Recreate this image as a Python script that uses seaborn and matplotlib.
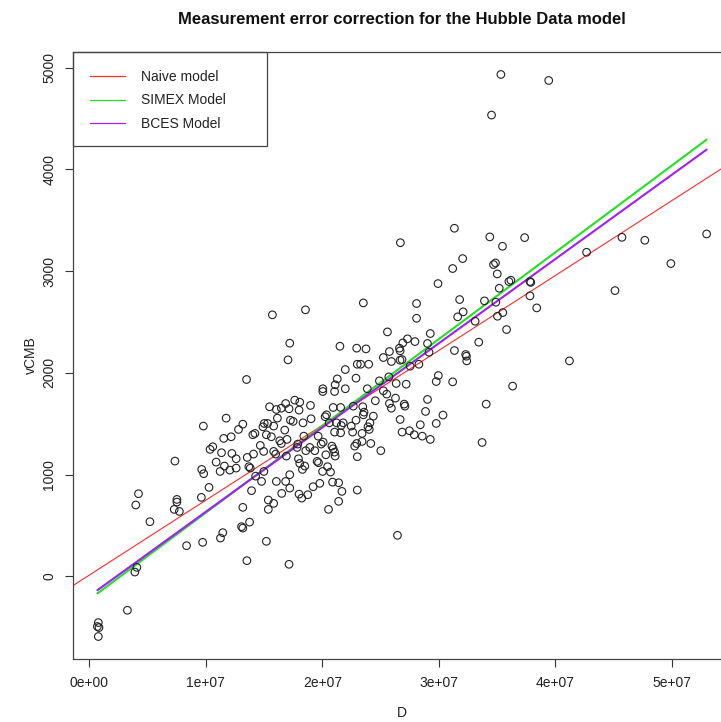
import numpy as np
import pandas as pd
import matplotlib
matplotlib.use("Agg")
import matplotlib.pyplot as plt
import matplotlib.patches as mpatches
from matplotlib.ticker import FuncFormatter
import seaborn as sns

# Distance D (units of 1e7) and CMB-frame velocity vCMB for each galaxy
d_1e7 = [
    1.153, 1.217, 1.036, 1.059, 1.134, 1.223, 1.260, 0.734, 1.088, 1.159,
    1.260, 0.964, 0.981, 1.122, 1.205, 0.421, 0.398, 1.027, 0.751, 0.751,
    0.728, 0.772, 0.961, 0.519, 1.145, 1.125, 0.972, 0.834, 0.407, 0.390,
    0.326, 0.076, 0.068, 0.082, 0.076,
    1.571, 1.855, 1.720, 1.705, 1.349, 2.004, 2.004, 1.763, 1.806, 1.898,
    1.547, 1.605, 1.648, 1.685, 1.714, 1.800, 1.174, 1.614, 1.726, 1.749,
    1.834, 1.903, 2.024, 0.978, 1.317, 1.280, 1.501, 1.530, 1.490, 1.582,
    1.677, 1.403, 1.421, 1.519, 1.562, 1.697, 1.841, 1.964,
    1.369, 1.381, 1.355, 1.409, 1.467, 1.496, 1.582, 1.599, 1.648, 1.634,
    1.691, 1.789, 1.783, 1.858, 1.892, 1.935, 1.990, 2.030, 1.955, 1.967,
    2.002, 2.045, 1.795, 1.806, 1.849, 1.829, 1.498, 1.427, 1.478, 1.392,
    1.605, 1.685, 1.720, 1.720, 1.651, 1.800, 1.823, 1.875, 1.921, 1.978,
    1.536, 1.582, 1.536, 1.317, 2.053, 1.375, 1.306, 1.317, 1.519, 1.352,
    1.714,
    2.352, 2.809, 2.809, 2.559, 2.927, 2.151, 2.295, 2.375, 2.731, 2.691,
    2.795, 2.903, 2.662, 2.668, 2.576, 2.524, 2.593, 2.667, 2.684, 2.300,
    2.329, 2.398, 2.754, 2.829, 2.197, 2.289, 2.490, 2.571, 2.634, 2.720,
    2.128, 2.110, 2.105, 2.197, 2.386, 2.524, 2.553, 2.455, 2.628, 2.576,
    2.593, 2.703, 2.709, 2.903, 2.093, 2.157, 2.266, 2.347, 2.358, 2.352,
    2.438, 2.036, 2.059, 2.122, 2.162, 2.179, 2.248, 2.289, 2.409, 2.392,
    2.403, 2.668, 2.748, 2.841, 2.886, 2.978, 2.105, 2.157, 2.260, 2.341,
    2.685, 2.789, 2.858, 2.927, 2.007, 2.082, 2.295, 2.278, 2.341, 2.416,
    2.093, 2.105, 2.110, 2.502, 2.300, 2.070, 2.088, 2.140, 2.168, 2.300,
    2.140, 2.645,
    3.134, 3.438, 3.737, 3.547, 3.205, 3.119, 3.470, 3.487, 3.502, 2.993,
    3.602, 3.619, 3.783, 3.790, 3.519, 3.179, 3.392, 3.490, 3.783, 3.841,
    3.209, 3.162, 3.312, 3.504, 3.550, 3.582, 2.916, 3.343, 3.134, 3.231,
    3.237, 3.240, 4.122, 2.996, 2.978, 3.119, 3.634, 3.407, 3.036, 3.372,
    3.533, 3.944, 3.453,
    4.573, 4.769, 5.300, 4.269, 4.993, 4.513, 2.670,
]
vcmb = [
    1356, 1372, 1248, 1274, 1215, 1208, 1156, 1133, 1123, 1084,
    1064, 1051, 1009, 1031, 1044, 812, 701, 874, 756, 730,
    658, 638, 776, 537, 429, 376, 334, 301, 88, 42,
    -334, -455, -494, -504, -592,
    2571, 2620, 2292, 2128, 1935, 1844, 1817, 1732, 1712, 1680,
    1667, 1640, 1653, 1699, 1647, 1634, 1555, 1555, 1535, 1523,
    1509, 1549, 1569, 1477, 1496, 1444, 1503, 1503, 1470, 1477,
    1438, 1392, 1405, 1392, 1372, 1346, 1378, 1378,
    1078, 1064, 1169, 1202, 1287, 1228, 1228, 1202, 1306, 1333,
    1182, 1300, 1267, 1235, 1267, 1235, 1300, 1195, 1130, 1117,
    1031, 1078, 1156, 1110, 1084, 1051, 1031, 985, 933, 842,
    933, 933, 999, 867, 815, 808, 769, 802, 881, 914,
    750, 717, 658, 678, 658, 533, 488, 474, 344, 154,
    118,
    2688, 2682, 2537, 2403, 2387, 2262, 2243, 2236, 2335, 2295,
    2308, 2289, 2243, 2217, 2210, 2151, 2112, 2125, 2131, 2085,
    2085, 2085, 2066, 2085, 2033, 1948, 1922, 1961, 1896, 1889,
    1941, 1883, 1817, 1844, 1844, 1824, 1791, 1726, 1752, 1699,
    1653, 1693, 1673, 1739, 1660, 1660, 1673, 1667, 1614, 1588,
    1575, 1588, 1509, 1509, 1483, 1509, 1477, 1535, 1509, 1470,
    1444, 1542, 1431, 1490, 1621, 1503, 1418, 1411, 1418, 1405,
    1418, 1392, 1378, 1346, 1319, 1280, 1306, 1280, 1326, 1306,
    1254, 1221, 1182, 1235, 1176, 1025, 926, 920, 835, 848,
    737, 403,
    3422, 3337, 3330, 3245, 3124, 3026, 3065, 3081, 2973, 2878,
    2898, 2911, 2898, 2890, 2832, 2721, 2708, 2695, 2757, 2639,
    2600, 2551, 2508, 2557, 2593, 2426, 2203, 2302, 2220, 2181,
    2164, 2118, 2118, 1974, 1915, 1912, 1870, 1693, 1585, 1316,
    4934, 4875, 4535,
    3333, 3304, 3366, 3186, 3075, 2809, 3280,
]

# Fitted regressions: vCMB = intercept + slope * D
model_names = ["Naive model", "SIMEX Model", "BCES Model"]
model_intercepts = [13.0, -227.0, -193.0]
model_slopes = [7.36e-5, 8.53e-5, 8.28e-5]
model_colors = ["#ff2a2a", "#22e022", "#a020f0"]
model_widths = [0.8, 1.5, 1.5]

x_ticks = [0, 1e7, 2e7, 3e7, 4e7, 5e7]
y_ticks = [0, 1000, 2000, 3000, 4000, 5000]

df = pd.DataFrame({"D": np.array(d_1e7) * 1e7, "vCMB": vcmb})

sns.set_style("white")
plt.rcParams["font.family"] = ["Liberation Sans", "DejaVu Sans"]

W, H = 721, 722
fig = plt.figure(figsize=(W / 100, H / 100), dpi=100)
# plot region in pixels: left 73, top 52, right 731, bottom 659
ax = fig.add_axes([73 / W, (H - 659) / H, 658 / W, 607 / H])

sns.scatterplot(data=df, x="D", y="vCMB", ax=ax, marker="o", s=30,
                facecolor="none", edgecolor="#222222", linewidth=0.8,
                legend=False, zorder=3)

xmin, xmax = df["D"].min(), df["D"].max()
ymin, ymax = df["vCMB"].min(), df["vCMB"].max()
xpad, ypad = 0.04 * (xmax - xmin), 0.04 * (ymax - ymin)
ax.set_xlim(xmin - xpad, xmax + xpad)
ax.set_ylim(ymin - ypad, ymax + ypad)

handles = []
for i, (name, a, b, c, w) in enumerate(zip(model_names, model_intercepts,
                                           model_slopes, model_colors, model_widths)):
    if i == 0:
        # naive fit drawn across the whole plotting region
        ax.axline((0, a), slope=b, color=c, lw=w, zorder=2)
    else:
        xs = np.array([xmin, xmax])
        line_df = pd.DataFrame({"D": xs, "vCMB": a + b * xs})
        sns.lineplot(data=line_df, x="D", y="vCMB", ax=ax, color=c, lw=w,
                     zorder=2, legend=False)
    handles.append(plt.Line2D([], [], color=c, lw=0.9))

ax.set_xticks(x_ticks)
ax.set_yticks(y_ticks)
ax.xaxis.set_major_formatter(FuncFormatter(lambda v, p: f"{v:.0e}"))
ax.yaxis.set_major_formatter(FuncFormatter(lambda v, p: f"{int(v)}"))
ax.tick_params(axis="both", direction="out", length=6, width=0.8,
               color="#333333", labelsize=10, labelcolor="#222222", pad=6)
ax.tick_params(axis="x", bottom=True)
ax.tick_params(axis="y", left=True, labelrotation=90)
for lab in ax.get_yticklabels():
    lab.set_va("center")
ax.set_xlabel("")
ax.set_ylabel("")
for sp in ax.spines.values():
    sp.set_color("#444444")
    sp.set_linewidth(0.9)

fig.text(402 / W, 1 - 20 / H, "Measurement error correction for the Hubble Data model",
         ha="center", va="center", fontsize=12, fontweight="bold", color="#111111")
fig.text(402 / W, 1 - 713 / H, "D", ha="center", va="center", fontsize=10, color="#222222")
fig.text(31 / W, 1 - 355 / H, "vCMB", ha="center", va="center", rotation=90,
         fontsize=10, color="#222222")

# legend box in the top-left corner of the plot region
fig.patches.append(mpatches.Rectangle((73 / W, 1 - 146 / H), 194 / W, 94 / H,
                                      transform=fig.transFigure, fill=False,
                                      ec="#444444", lw=0.9, zorder=5))
fig.legend(handles, model_names, loc="upper left",
           bbox_to_anchor=(90 / W, 1 - 70 / H), bbox_transform=fig.transFigure,
           frameon=False, borderpad=0, borderaxespad=0, handlelength=2.5,
           handletextpad=1.2, labelspacing=0.68, fontsize=10,
           labelcolor="#222222")

fig.savefig("out.png", dpi=100)
